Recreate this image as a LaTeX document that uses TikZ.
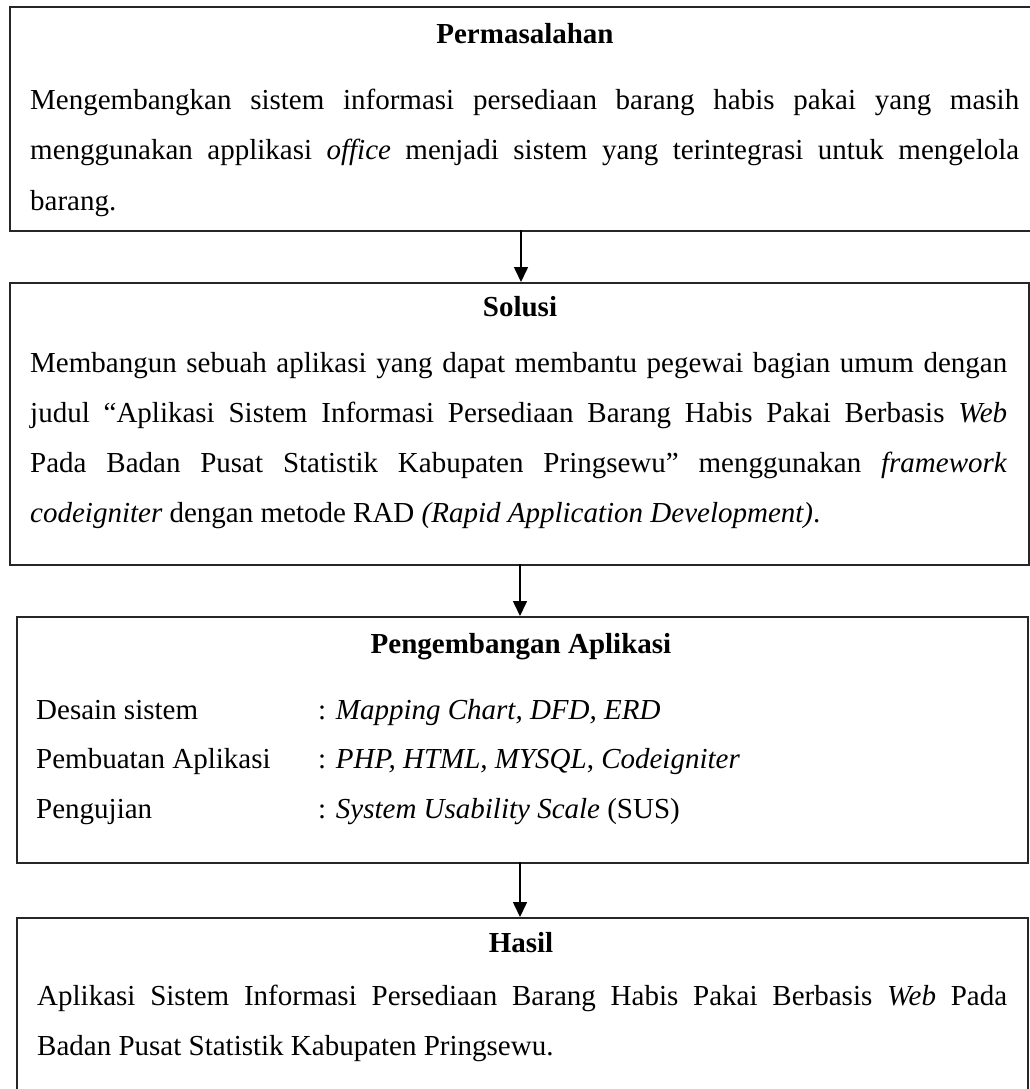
\documentclass[tikz,border=0pt]{standalone}
\usepackage{fontspec}
\setmainfont{Liberation Serif}
\usetikzlibrary{arrows.meta}
\begin{document}
\begin{tikzpicture}[x=1pt,y=-1pt,
  boxst/.style={draw=black!85, line width=1.7pt, rectangle, inner sep=0pt, anchor=north west},
  txt/.style={inner sep=0pt, anchor=base west, font=\fontsize{29}{50}\selectfont},
  ttl/.style={inner sep=0pt, anchor=base, font=\fontsize{29}{50}\selectfont\bfseries},
  arr/.style={line width=1.6pt, -{Triangle[width=14pt,length=15pt]}}]
\useasboundingbox (0,0) rectangle (1030,1089);
% boxes
\node[boxst, minimum width=1026pt, minimum height=224pt] (b1) at (9,6) {};
\node[boxst, minimum width=1019pt, minimum height=282pt] (b2) at (9,282) {};
\node[boxst, minimum width=1011pt, minimum height=246pt] (b3) at (16,616) {};
\node[boxst, minimum width=1011pt, minimum height=190pt] (b4) at (16,917) {};
% arrows
\coordinate (a1) at (521,230);
\coordinate (a2) at (520,564);
\coordinate (a3) at (520,862);
\draw[arr] (a1) -- (a1 |- b2.north);
\draw[arr] (a2) -- (a2 |- b3.north);
\draw[arr] (a3) -- (a3 |- b4.north);
% box 1
\node[ttl] (t1) at (525,44) {Permasalahan};
\node[txt] (p1a) at (30,110) {\makebox[989pt][s]{Mengembangkan sistem informasi persediaan barang habis pakai yang masih}};
\node[txt] (p1b) at (30,160) {\makebox[989pt][s]{menggunakan applikasi \textit{office} menjadi sistem yang terintegrasi untuk mengelola}};
\node[txt] (p1c) at (30,210) {barang.};
% box 2
\node[ttl] (t2) at (520,316) {Solusi};
\node[txt] (p2a) at (30,372) {\makebox[977pt][s]{Membangun sebuah aplikasi yang dapat membantu pegewai bagian umum dengan}};
\node[txt] (p2b) at (30,422) {\makebox[977pt][s]{judul “Aplikasi Sistem Informasi Persediaan Barang Habis Pakai Berbasis \textit{Web}}};
\node[txt] (p2c) at (30,472) {\makebox[977pt][s]{Pada Badan Pusat Statistik Kabupaten Pringsewu” menggunakan \textit{framework}}};
\node[txt] (p2d) at (30,522) {\textit{codeigniter} dengan metode RAD \textit{(Rapid Application Development)}.};
% box 3
\node[ttl] (t3) at (521,653) {Pengembangan Aplikasi};
\node[txt] (r1a) at (36,719) {Desain sistem};
\node[txt] (r1b) at (318,719) {: \textit{Mapping Chart, DFD, ERD}};
\node[txt] (r2a) at (36,768) {Pembuatan Aplikasi};
\node[txt] (r2b) at (318,768) {: \textit{PHP, HTML, MYSQL}, \textit{Codeigniter}};
\node[txt] (r3a) at (36,818) {Pengujian};
\node[txt] (r3b) at (318,818) {: \textit{System Usability Scale} (SUS)};
% box 4
\node[ttl] (t4) at (521,952) {Hasil};
\node[txt] (p4a) at (37,1005) {\makebox[970pt][s]{Aplikasi Sistem Informasi Persediaan Barang Habis Pakai Berbasis \textit{Web} Pada}};
\node[txt] (p4b) at (37,1055) {Badan Pusat Statistik Kabupaten Pringsewu.};
\end{tikzpicture}
\end{document}
